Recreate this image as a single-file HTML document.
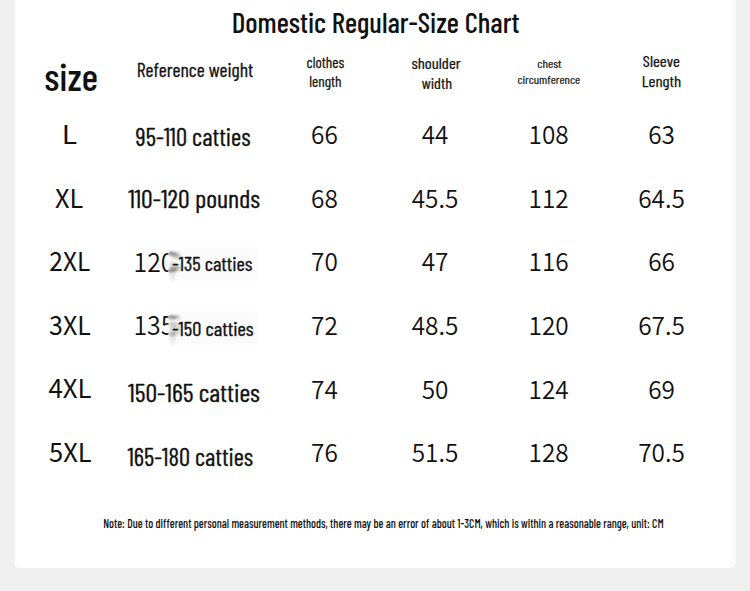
<!DOCTYPE html>
<html><head><meta charset="utf-8"><title>Domestic Regular-Size Chart</title><style>
html,body{margin:0;padding:0;background:#efefef;width:750px;height:591px;overflow:hidden}
.card{position:absolute;left:14px;top:-10px;width:722px;height:578px;background:linear-gradient(to right,#f1f1f1 0,#f9f9f9 1px,#fff 2px,#fff 714px,#fcfcfc 716px,#f8f8f8 722px);border-radius:6px}
svg{position:absolute;left:0;top:0}
</style></head><body>
<div class="card"></div>
<svg width="750" height="591" viewBox="0 0 750 591">

<text textLength="287.59" lengthAdjust="spacingAndGlyphs" transform="translate(231.70 32.8) scale(1.0007 1)" font-family="'Barlow Condensed', 'Liberation Sans', sans-serif" font-weight="500" font-size="29" fill="#111">Domestic Regular-Size Chart</text>
<text textLength="53.85" lengthAdjust="spacingAndGlyphs" transform="translate(44.30 90.5) scale(0.9980 1)" font-family="'Barlow Condensed', 'Liberation Sans', sans-serif" font-weight="500" font-size="39" fill="#111">size</text>
<text textLength="112.51" lengthAdjust="spacingAndGlyphs" transform="translate(136.76 76.7) scale(1.0351 1)" font-family="'Barlow Condensed', 'Liberation Sans', sans-serif" font-weight="400" font-size="19" fill="#111" stroke="#111" stroke-width="0.3">Reference weight</text>
<text textLength="35.78" lengthAdjust="spacingAndGlyphs" transform="translate(306.55 67.7) scale(1.0500 1)" font-family="'Barlow Condensed', 'Liberation Sans', sans-serif" font-weight="400" font-size="14.5" fill="#111" stroke="#111" stroke-width="0.25">clothes</text>
<text textLength="30.66" lengthAdjust="spacingAndGlyphs" transform="translate(309.24 87.0) scale(1.0552 1)" font-family="'Barlow Condensed', 'Liberation Sans', sans-serif" font-weight="400" font-size="14.5" fill="#111" stroke="#111" stroke-width="0.25">length</text>
<text textLength="44.06" lengthAdjust="spacingAndGlyphs" transform="translate(411.49 68.9) scale(1.1140 1)" font-family="'Barlow Condensed', 'Liberation Sans', sans-serif" font-weight="400" font-size="15" fill="#111" stroke="#111" stroke-width="0.25">shoulder</text>
<text textLength="28.14" lengthAdjust="spacingAndGlyphs" transform="translate(421.72 88.6) scale(1.0808 1)" font-family="'Barlow Condensed', 'Liberation Sans', sans-serif" font-weight="400" font-size="15" fill="#111" stroke="#111" stroke-width="0.25">width</text>
<text textLength="21.53" lengthAdjust="spacingAndGlyphs" transform="translate(537.16 67.6) scale(1.1350 1)" font-family="'Barlow Condensed', 'Liberation Sans', sans-serif" font-weight="400" font-size="11.5" fill="#111" stroke="#111" stroke-width="0.2">chest</text>
<text textLength="57.23" lengthAdjust="spacingAndGlyphs" transform="translate(517.40 83.6) scale(1.0964 1)" font-family="'Barlow Condensed', 'Liberation Sans', sans-serif" font-weight="400" font-size="11.5" fill="#111" stroke="#111" stroke-width="0.2">circumference</text>
<text textLength="32.75" lengthAdjust="spacingAndGlyphs" transform="translate(642.87 66.7) scale(1.1290 1)" font-family="'Barlow Condensed', 'Liberation Sans', sans-serif" font-weight="400" font-size="15" fill="#111" stroke="#111" stroke-width="0.25">Sleeve</text>
<text textLength="34.94" lengthAdjust="spacingAndGlyphs" transform="translate(641.87 86.5) scale(1.1273 1)" font-family="'Barlow Condensed', 'Liberation Sans', sans-serif" font-weight="400" font-size="15" fill="#111" stroke="#111" stroke-width="0.25">Length</text>
<text textLength="14.12" lengthAdjust="spacingAndGlyphs" transform="translate(61.83 143.8) scale(1.0900 1)" font-family="'Noto Sans CJK SC', 'Liberation Sans', sans-serif" font-weight="400" font-size="26" fill="#111">L</text>
<text textLength="29.01" lengthAdjust="spacingAndGlyphs" transform="translate(55.03 207.5) scale(0.9741 1)" font-family="'Noto Sans CJK SC', 'Liberation Sans', sans-serif" font-weight="400" font-size="26" fill="#111">XL</text>
<text textLength="43.41" lengthAdjust="spacingAndGlyphs" transform="translate(49.36 271) scale(0.9405 1)" font-family="'Noto Sans CJK SC', 'Liberation Sans', sans-serif" font-weight="400" font-size="26" fill="#111">2XL</text>
<text textLength="43.43" lengthAdjust="spacingAndGlyphs" transform="translate(49.04 334.5) scale(0.9595 1)" font-family="'Noto Sans CJK SC', 'Liberation Sans', sans-serif" font-weight="400" font-size="26" fill="#111">3XL</text>
<text textLength="43.42" lengthAdjust="spacingAndGlyphs" transform="translate(48.51 398) scale(0.9929 1)" font-family="'Noto Sans CJK SC', 'Liberation Sans', sans-serif" font-weight="400" font-size="26" fill="#111">4XL</text>
<text textLength="43.44" lengthAdjust="spacingAndGlyphs" transform="translate(49.02 461.5) scale(0.9810 1)" font-family="'Noto Sans CJK SC', 'Liberation Sans', sans-serif" font-weight="400" font-size="26" fill="#111">5XL</text>
<text textLength="114.85" lengthAdjust="spacingAndGlyphs" transform="translate(135.60 145.8) scale(1.0009 1)" font-family="'Barlow Condensed', 'Liberation Sans', sans-serif" font-weight="400" font-size="25" fill="#111" stroke="#111" stroke-width="0.35">95-110 catties</text>
<text textLength="125.96" lengthAdjust="spacingAndGlyphs" transform="translate(128.25 207.7) scale(1.0460 1)" font-family="'Barlow Condensed', 'Liberation Sans', sans-serif" font-weight="400" font-size="25" fill="#111" stroke="#111" stroke-width="0.35">110-120 pounds</text>
<text textLength="42.81" lengthAdjust="spacingAndGlyphs" transform="translate(133.59 271.5) scale(0.9550 1)" font-family="'Noto Sans CJK SC', 'Liberation Sans', sans-serif" font-weight="350" font-size="26" fill="#111">120</text>
<defs><filter id="pb" x="-20%" y="-50%" width="140%" height="200%"><feGaussianBlur stdDeviation="2"/></filter></defs><rect x="168.5" y="244" width="90" height="38" fill="#fff"/><rect x="170" y="246" width="87" height="35" fill="#fbfbfb" filter="url(#pb)"/>
<defs><filter id="sm" x="-50%" y="-50%" width="200%" height="200%"><feGaussianBlur stdDeviation="3 1.7"/><feOffset dx="2" dy="0"/></filter><filter id="sm2" x="-50%" y="-50%" width="200%" height="200%"><feGaussianBlur stdDeviation="1.3"/></filter><linearGradient id="vg" x1="0" y1="0" x2="0" y2="1"><stop offset="0" stop-color="#000" stop-opacity="0.14"/><stop offset="1" stop-color="#000" stop-opacity="0.04"/></linearGradient><clipPath id="cx"><rect x="168.6" y="200" width="30" height="160"/></clipPath><clipPath id="c3"><rect x="169" y="240" width="20" height="17"/><rect x="169" y="267" width="20" height="10"/></clipPath><clipPath id="c4"><rect x="169" y="300" width="20" height="20"/><rect x="169" y="320" width="20" height="20" opacity="0.5"/></clipPath></defs><g filter="url(#sm2)"><rect x="169.5" y="262" width="6" height="19" fill="url(#vg)"/></g><g clip-path="url(#cx)"><g filter="url(#sm)" opacity="0.8"><path d="M166 253 Q174.5 252.8 175.8 258.5" fill="none" stroke="#000" stroke-width="2.4"/><path d="M175.8 265.5 Q174.5 271 166 270.9" fill="none" stroke="#000" stroke-width="2.4"/></g></g>
<text textLength="78.44" lengthAdjust="spacingAndGlyphs" transform="translate(172.28 271) scale(1.0221 1)" font-family="'Barlow Condensed', 'Liberation Sans', sans-serif" font-weight="400" font-size="20" fill="#111" stroke="#111" stroke-width="0.35">-135 catties</text>
<text textLength="42.81" lengthAdjust="spacingAndGlyphs" transform="translate(133.39 334.9) scale(0.9550 1)" font-family="'Noto Sans CJK SC', 'Liberation Sans', sans-serif" font-weight="350" font-size="26" fill="#111">135</text>
<rect x="168.5" y="308" width="90" height="38" fill="#fff"/><rect x="170" y="310" width="87" height="35" fill="#fbfbfb" filter="url(#pb)"/>
<g filter="url(#sm2)"><rect x="169.5" y="326" width="6" height="19" fill="url(#vg)"/></g><g clip-path="url(#cx)"><g filter="url(#sm)" opacity="0.8"><path d="M166 317.2 L175 317.2" fill="none" stroke="#000" stroke-width="2.4"/><path d="M167 323 Q175.5 323.5 175.8 328.5 Q175.5 334.8 167 334.8" fill="none" stroke="#000" stroke-width="2.2" opacity="0.6"/></g></g>
<text textLength="79.10" lengthAdjust="spacingAndGlyphs" transform="translate(172.17 335.8) scale(1.0282 1)" font-family="'Barlow Condensed', 'Liberation Sans', sans-serif" font-weight="400" font-size="20" fill="#111" stroke="#111" stroke-width="0.35">-150 catties</text>
<text textLength="125.80" lengthAdjust="spacingAndGlyphs" transform="translate(128.05 401.7) scale(1.0476 1)" font-family="'Barlow Condensed', 'Liberation Sans', sans-serif" font-weight="400" font-size="25" fill="#111" stroke="#111" stroke-width="0.35">150-165 catties</text>
<text textLength="126.10" lengthAdjust="spacingAndGlyphs" transform="translate(127.50 465.9) scale(0.9960 1)" font-family="'Barlow Condensed', 'Liberation Sans', sans-serif" font-weight="400" font-size="25" fill="#111" stroke="#111" stroke-width="0.35">165-180 catties</text>
<text textLength="28.10" lengthAdjust="spacingAndGlyphs" transform="translate(311.07 144.1) scale(0.9520 1)" font-family="'Noto Sans CJK SC', 'Liberation Sans', sans-serif" font-weight="350" font-size="25.6" fill="#111">66</text>
<text textLength="28.10" lengthAdjust="spacingAndGlyphs" transform="translate(421.67 144.1) scale(0.9520 1)" font-family="'Noto Sans CJK SC', 'Liberation Sans', sans-serif" font-weight="350" font-size="25.6" fill="#111">44</text>
<text textLength="42.16" lengthAdjust="spacingAndGlyphs" transform="translate(528.53 144.1) scale(0.9520 1)" font-family="'Noto Sans CJK SC', 'Liberation Sans', sans-serif" font-weight="350" font-size="25.6" fill="#111">108</text>
<text textLength="28.10" lengthAdjust="spacingAndGlyphs" transform="translate(648.17 144.1) scale(0.9520 1)" font-family="'Noto Sans CJK SC', 'Liberation Sans', sans-serif" font-weight="350" font-size="25.6" fill="#111">63</text>
<text textLength="28.10" lengthAdjust="spacingAndGlyphs" transform="translate(311.07 208.0) scale(0.9520 1)" font-family="'Noto Sans CJK SC', 'Liberation Sans', sans-serif" font-weight="350" font-size="25.6" fill="#111">68</text>
<text textLength="49.04" lengthAdjust="spacingAndGlyphs" transform="translate(411.68 208.0) scale(0.9520 1)" font-family="'Noto Sans CJK SC', 'Liberation Sans', sans-serif" font-weight="350" font-size="25.6" fill="#111">45.5</text>
<text textLength="42.16" lengthAdjust="spacingAndGlyphs" transform="translate(528.53 208.0) scale(0.9520 1)" font-family="'Noto Sans CJK SC', 'Liberation Sans', sans-serif" font-weight="350" font-size="25.6" fill="#111">112</text>
<text textLength="49.04" lengthAdjust="spacingAndGlyphs" transform="translate(638.18 208.0) scale(0.9520 1)" font-family="'Noto Sans CJK SC', 'Liberation Sans', sans-serif" font-weight="350" font-size="25.6" fill="#111">64.5</text>
<text textLength="28.10" lengthAdjust="spacingAndGlyphs" transform="translate(311.07 271.3) scale(0.9520 1)" font-family="'Noto Sans CJK SC', 'Liberation Sans', sans-serif" font-weight="350" font-size="25.6" fill="#111">70</text>
<text textLength="28.10" lengthAdjust="spacingAndGlyphs" transform="translate(421.67 271.3) scale(0.9520 1)" font-family="'Noto Sans CJK SC', 'Liberation Sans', sans-serif" font-weight="350" font-size="25.6" fill="#111">47</text>
<text textLength="42.16" lengthAdjust="spacingAndGlyphs" transform="translate(528.53 271.3) scale(0.9520 1)" font-family="'Noto Sans CJK SC', 'Liberation Sans', sans-serif" font-weight="350" font-size="25.6" fill="#111">116</text>
<text textLength="28.10" lengthAdjust="spacingAndGlyphs" transform="translate(648.17 271.3) scale(0.9520 1)" font-family="'Noto Sans CJK SC', 'Liberation Sans', sans-serif" font-weight="350" font-size="25.6" fill="#111">66</text>
<text textLength="28.10" lengthAdjust="spacingAndGlyphs" transform="translate(311.07 335.1) scale(0.9520 1)" font-family="'Noto Sans CJK SC', 'Liberation Sans', sans-serif" font-weight="350" font-size="25.6" fill="#111">72</text>
<text textLength="49.04" lengthAdjust="spacingAndGlyphs" transform="translate(411.68 335.1) scale(0.9520 1)" font-family="'Noto Sans CJK SC', 'Liberation Sans', sans-serif" font-weight="350" font-size="25.6" fill="#111">48.5</text>
<text textLength="42.16" lengthAdjust="spacingAndGlyphs" transform="translate(528.53 335.1) scale(0.9520 1)" font-family="'Noto Sans CJK SC', 'Liberation Sans', sans-serif" font-weight="350" font-size="25.6" fill="#111">120</text>
<text textLength="49.04" lengthAdjust="spacingAndGlyphs" transform="translate(638.18 335.1) scale(0.9520 1)" font-family="'Noto Sans CJK SC', 'Liberation Sans', sans-serif" font-weight="350" font-size="25.6" fill="#111">67.5</text>
<text textLength="28.10" lengthAdjust="spacingAndGlyphs" transform="translate(311.07 399.0) scale(0.9520 1)" font-family="'Noto Sans CJK SC', 'Liberation Sans', sans-serif" font-weight="350" font-size="25.6" fill="#111">74</text>
<text textLength="28.10" lengthAdjust="spacingAndGlyphs" transform="translate(421.67 399.0) scale(0.9520 1)" font-family="'Noto Sans CJK SC', 'Liberation Sans', sans-serif" font-weight="350" font-size="25.6" fill="#111">50</text>
<text textLength="42.16" lengthAdjust="spacingAndGlyphs" transform="translate(528.53 399.0) scale(0.9520 1)" font-family="'Noto Sans CJK SC', 'Liberation Sans', sans-serif" font-weight="350" font-size="25.6" fill="#111">124</text>
<text textLength="28.10" lengthAdjust="spacingAndGlyphs" transform="translate(648.17 399.0) scale(0.9520 1)" font-family="'Noto Sans CJK SC', 'Liberation Sans', sans-serif" font-weight="350" font-size="25.6" fill="#111">69</text>
<text textLength="28.10" lengthAdjust="spacingAndGlyphs" transform="translate(311.07 462.4) scale(0.9520 1)" font-family="'Noto Sans CJK SC', 'Liberation Sans', sans-serif" font-weight="350" font-size="25.6" fill="#111">76</text>
<text textLength="49.04" lengthAdjust="spacingAndGlyphs" transform="translate(411.68 462.4) scale(0.9520 1)" font-family="'Noto Sans CJK SC', 'Liberation Sans', sans-serif" font-weight="350" font-size="25.6" fill="#111">51.5</text>
<text textLength="42.16" lengthAdjust="spacingAndGlyphs" transform="translate(528.53 462.4) scale(0.9520 1)" font-family="'Noto Sans CJK SC', 'Liberation Sans', sans-serif" font-weight="350" font-size="25.6" fill="#111">128</text>
<text textLength="49.04" lengthAdjust="spacingAndGlyphs" transform="translate(638.18 462.4) scale(0.9520 1)" font-family="'Noto Sans CJK SC', 'Liberation Sans', sans-serif" font-weight="350" font-size="25.6" fill="#111">70.5</text>
<text textLength="596.50" lengthAdjust="spacingAndGlyphs" transform="translate(103.16 527.8) scale(0.9396 1)" font-family="'Barlow Condensed', 'Liberation Sans', sans-serif" font-weight="500" font-size="12.5" fill="#111">Note: Due to different personal measurement methods, there may be an error of about 1-3CM, which is within a reasonable range, unit: CM</text>

</svg>
</body></html>
